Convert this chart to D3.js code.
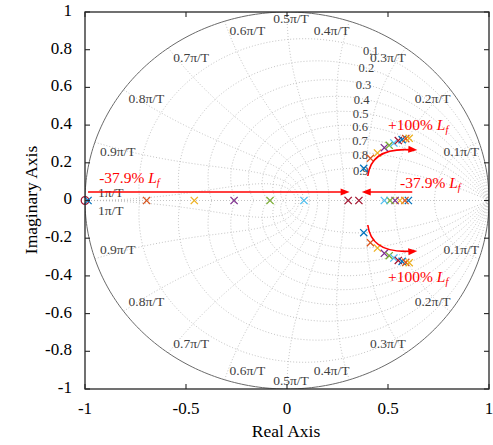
<!DOCTYPE html>
<html><head><meta charset="utf-8">
<script src="https://cdn.jsdelivr.net/npm/d3@7"></script>
<style>body{margin:0;background:#fff}svg{display:block}text{font-family:"Liberation Serif","Times New Roman",serif}</style>
</head><body><svg id="c" width="493" height="445"></svg>
<script>
// ---- data ----
const seriesColors = ["#0072BD","#D95319","#EDB120","#7E2F8E","#77AC30","#4DBEEE","#A2142F"];
const complexRe = [0.380,0.413,0.448,0.482,0.506,0.529,0.551,0.570,0.588,0.605];
const complexIm = [0.171,0.224,0.252,0.280,0.293,0.305,0.318,0.323,0.328,0.330];
const realLeft  = [-0.985,-0.695,-0.459,-0.262,-0.084,0.084,0.303];
const realRight = [0.601,0.584,0.559,0.535,0.510,0.482,0.356];
const zeroPts = [-1];
const xTicks = [-1,-0.5,0,0.5,1];
const xTickLabels = ["-1","-0.5","0","0.5","1"];
const yTicks = [-1,-0.8,-0.6,-0.4,-0.2,0,0.2,0.4,0.6,0.8,1];
const yTickLabels = ["-1","-0.8","-0.6","-0.4","-0.2","0","0.2","0.4","0.6","0.8","1"];
const dampingValues = [0.1,0.2,0.3,0.4,0.5,0.6,0.7,0.8,0.9];
const dampingLabels = ["0.1","0.2","0.3","0.4","0.5","0.6","0.7","0.8","0.9"];
const wnFactors = [0.1,0.2,0.3,0.4,0.5,0.6,0.7,0.8,0.9,1];
const wnLabels = ["0.1π/T","0.2π/T","0.3π/T","0.4π/T","0.5π/T","0.6π/T","0.7π/T","0.8π/T","0.9π/T","1π/T"];
const annotLabels = ["+100% ","-37.9% "];

// ---- chart ----
const svg = d3.select("#c");
const x = d3.scaleLinear().domain([-1,1]).range([85,489]);
const y = d3.scaleLinear().domain([-1,1]).range([389,12]);
const line = d3.line().x(d=>x(d[0])).y(d=>y(d[1]));
svg.append("defs").append("clipPath").attr("id","clip").append("rect")
  .attr("x",85).attr("y",12).attr("width",404).attr("height",377);
const g = svg.append("g").attr("clip-path","url(#clip)");
const gridStyle = s => s.attr("fill","none").attr("stroke","#b4b4b4").attr("stroke-width",0.8).attr("stroke-dasharray","1,2");

// damping curves
dampingValues.forEach(z=>{
  const m = z/Math.sqrt(1-z*z);
  [1,-1].forEach(sg=>{
    const pts = d3.range(0,201).map(i=>{const w=Math.PI*i/200; const r=Math.exp(-m*w); return [r*Math.cos(w), sg*r*Math.sin(w)];});
    g.append("path").attr("d",line(pts)).call(gridStyle);
  });
});
// natural frequency curves
wnFactors.forEach(f=>{
  const wn = f*Math.PI;
  [1,-1].forEach(sg=>{
    const pts = d3.range(0,201).map(i=>{const z=i/200; const r=Math.exp(-z*wn); const a=wn*Math.sqrt(1-z*z); return [r*Math.cos(a), sg*r*Math.sin(a)];});
    g.append("path").attr("d",line(pts)).call(gridStyle);
  });
});
// real axis dotted
g.append("path").attr("d",line([[-1,0],[1,0]])).call(gridStyle);
// unit circle
g.append("path").attr("d",line(d3.range(0,361).map(i=>[Math.cos(i*Math.PI/180),Math.sin(i*Math.PI/180)])))
  .attr("fill","none").attr("stroke","#6a6a6a").attr("stroke-width",1);

// damping labels
dampingValues.forEach((z,i)=>{
  const w = 1.06 - 0.15*(z-0.1);
  const r=Math.exp(-z*w), a=w*Math.sqrt(1-z*z);
  svg.append("text").attr("x",x(r*Math.cos(a))+2).attr("y",y(r*Math.sin(a))+1.5+(z-0.5)*6)
    .attr("text-anchor","end").attr("dominant-baseline","middle")
    .attr("font-size",12.5).attr("fill","#404040").text(dampingLabels[i]);
});
// wn labels
wnFactors.forEach((f,i)=>{
  const a=f*Math.PI;
  [1,-1].forEach(sg=>{
    const px=x(Math.cos(a)), py=y(sg*Math.sin(a));
    let anchor, dx, dy;
    if (f===1){anchor="start"; dx=13; dy= sg>0 ? -7 : 11;}
    else if (Math.abs(Math.cos(a))<1e-6){anchor="middle"; dx=4; dy= sg>0 ? 8 : -7;}
    else if (Math.cos(a)>0){anchor="end"; dx=0; dy= sg>0 ? 10.5 : -8;}
    else {anchor="start"; dx=5; dy= sg>0 ? 10.5 : -8;}
    svg.append("text").attr("x",px+dx).attr("y",py+dy).attr("text-anchor",anchor)
      .attr("dominant-baseline","middle").attr("font-size",13.5).attr("fill","#404040").text(wnLabels[i]);
  });
});

// markers
function cross(px,py,col){
  const s=3.6;
  svg.append("path").attr("d",`M${px-s},${py-s}L${px+s},${py+s}M${px-s},${py+s}L${px+s},${py-s}`)
    .attr("stroke",col).attr("stroke-width",1.3).attr("fill","none");
}
zeroPts.forEach(v=>svg.append("circle").attr("cx",x(v)).attr("cy",y(0)).attr("r",3.8)
  .attr("fill","none").attr("stroke","#A2142F").attr("stroke-width",1.3));
realLeft.forEach((v,i)=>cross(x(v),y(0),seriesColors[i%7]));
realRight.forEach((v,i)=>cross(x(v),y(0),seriesColors[i%7]));
complexRe.forEach((v,i)=>{cross(x(v),y(complexIm[i]),seriesColors[i%7]); cross(x(v),y(-complexIm[i]),seriesColors[i%7]);});

// arrows
const red="#FF0000";
function arrowHead(x1,y1,x2,y2){
  const ang=Math.atan2(y2-y1,x2-x1), L=9, W=3.5;
  const bx=x2-L*Math.cos(ang), by=y2-L*Math.sin(ang);
  svg.append("path").attr("d",`M${x2},${y2}L${bx+W*Math.sin(ang)},${by-W*Math.cos(ang)}L${bx-W*Math.sin(ang)},${by+W*Math.cos(ang)}Z`).attr("fill",red);
}
function straightArrow(a,b){
  const x1=x(a[0]),y1=y(a[1]),x2=x(b[0]),y2=y(b[1]);
  const ang=Math.atan2(y2-y1,x2-x1);
  svg.append("path").attr("d",`M${x1},${y1}L${x2-6*Math.cos(ang)},${y2-6*Math.sin(ang)}`).attr("stroke",red).attr("stroke-width",1.6);
  arrowHead(x1,y1,x2,y2);
}
function curvedArrow(a,c,b){
  const x1=x(a[0]),y1=y(a[1]),cx=x(c[0]),cy=y(c[1]),x2=x(b[0]),y2=y(b[1]);
  svg.append("path").attr("d",`M${x1},${y1}Q${cx},${cy} ${x2-5},${y2}`).attr("stroke",red).attr("stroke-width",1.6).attr("fill","none");
  arrowHead(cx,cy,x2,y2);
}
straightArrow([-0.985,0.045],[0.31,0.045]);
straightArrow([0.62,0.045],[0.37,0.045]);
curvedArrow([0.40,0.13],[0.418,0.285],[0.645,0.268]);
curvedArrow([0.40,-0.13],[0.418,-0.285],[0.645,-0.268]);

function redLabel(px,py,txt){
  const t=svg.append("text").attr("x",px).attr("y",py).attr("font-size",15.5).attr("fill",red);
  t.append("tspan").text(txt);
  t.append("tspan").attr("font-style","italic").text("L");
  t.append("tspan").attr("font-style","italic").attr("font-size",10.5).attr("dy",3).text("f");
}
redLabel(x(0.5),y(0.375),annotLabels[0]);
redLabel(x(0.56),y(0.068),annotLabels[1]);
redLabel(x(0.5),y(-0.43),annotLabels[0]);
redLabel(x(-0.93),y(0.093),annotLabels[1]);

// axes frame and ticks
const ax=svg.append("g");
ax.append("rect").attr("x",85).attr("y",12).attr("width",404).attr("height",377)
  .attr("fill","none").attr("stroke","#262626").attr("stroke-width",1.3);
xTicks.forEach((v,i)=>{
  ax.append("line").attr("x1",x(v)).attr("x2",x(v)).attr("y1",389).attr("y2",384).attr("stroke","#262626").attr("stroke-width",1.1);
  ax.append("line").attr("x1",x(v)).attr("x2",x(v)).attr("y1",12).attr("y2",17).attr("stroke","#262626").attr("stroke-width",1.1);
  ax.append("text").attr("x",x(v)).attr("y",414).attr("text-anchor","middle").attr("font-size",17).attr("fill","#000").text(xTickLabels[i]);
});
yTicks.forEach((v,i)=>{
  ax.append("line").attr("x1",85).attr("x2",90).attr("y1",y(v)).attr("y2",y(v)).attr("stroke","#262626").attr("stroke-width",1.1);
  ax.append("line").attr("x1",489).attr("x2",484).attr("y1",y(v)).attr("y2",y(v)).attr("stroke","#262626").attr("stroke-width",1.1);
  ax.append("text").attr("x",72).attr("y",y(v)).attr("text-anchor","end").attr("dominant-baseline","middle").attr("font-size",17).attr("fill","#000").text(yTickLabels[i]);
});
svg.append("text").attr("x",286).attr("y",437).attr("text-anchor","middle").attr("font-size",17.5).attr("fill","#000").text("Real Axis");
svg.append("text").attr("transform","translate(37,200) rotate(-90)").attr("text-anchor","middle").attr("font-size",17.5).attr("fill","#000").text("Imaginary Axis");
</script></body></html>
